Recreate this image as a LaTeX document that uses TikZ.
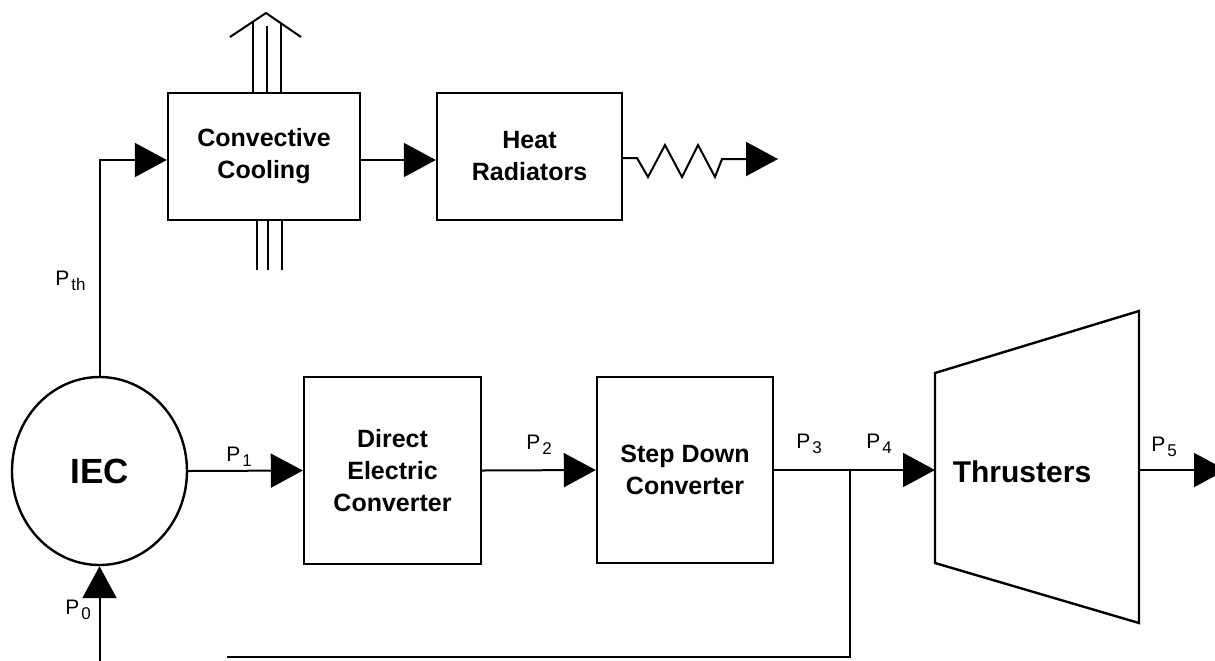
\documentclass[tikz,border=0pt]{standalone}
\usepackage{fontspec}
\setmainfont{Liberation Sans}
\usetikzlibrary{arrows.meta,shapes.geometric}
\newcommand{\plab}[1]{P\kern1pt\raisebox{-2.8pt}{\fontsize{8.5}{8.5}\selectfont #1}}
\begin{document}
\begin{tikzpicture}[x=0.5pt,y=-0.5pt,
  box/.style={draw,line width=1.2pt,rectangle,inner sep=0pt,align=center,font=\bfseries\fontsize{12.5}{16}\selectfont},
  conn/.style={line width=1pt,-{Triangle[length=16pt,width=17pt]}},
  wire/.style={line width=1pt},
  plabel/.style={anchor=base west,inner sep=0pt,font=\fontsize{10.5}{11}\selectfont}]
\clip (0,0) rectangle (1215,660);
% blocks
\node[draw,ellipse,line width=1.2pt,minimum width=87.5pt,minimum height=94pt,inner sep=0pt,font=\bfseries\fontsize{17.5}{18}\selectfont] (iec) at (99.5,471) {IEC};
\node[box,minimum width=96pt,minimum height=63.5pt] (conv) at (264,156.5) {Convective\\Cooling};
\node[box,minimum width=92.5pt,minimum height=63.5pt] (heat) at (529.5,156.5) {Heat\\Radiators};
\node[box,minimum width=88.5pt,minimum height=93.5pt] (dec) at (392.5,470.5) {Direct\\Electric\\Converter};
\node[box,minimum width=88pt,minimum height=93pt] (sdc) at (685,470) {Step Down\\Converter};
% thrusters trapezoid
\coordinate (t1) at (935,373);
\coordinate (t2) at (1139,311);
\coordinate (t3) at (1139,623);
\coordinate (t4) at (935,563);
\draw[line width=1.2pt] (t1) -- (t2) -- (t3) -- (t4) -- cycle;
\node[font=\bfseries\fontsize{15}{16}\selectfont] (thr) at (1022,472) {Thrusters};
\coordinate (thrL) at (935,470);
\coordinate (thrR) at (1139,470);
% connectors
\draw[conn] (iec.north) |- ([yshift=-1.75pt]conv.west);
\draw[conn] ([yshift=-1.75pt]conv.east) -- ([yshift=-1.75pt]heat.west);
\coordinate (rad) at (778,159);
\draw[line width=1pt,line join=miter,-{Triangle[length=16pt,width=17pt]}] ([yshift=-0.75pt]heat.east) -- (637,158) -- (648,177) -- (665,145) -- (682,177) -- (698,145) -- (715,177) -- (722,159) -- (rad);
\draw[conn] (iec.east) -- (dec.west);
\draw[conn] (dec.east) -- (sdc.west);
\draw[conn] (sdc.east) -- (thrL);
\coordinate (j) at (850,470);
\coordinate (fb) at (227,657);
\draw[wire] (j) |- (fb);
\coordinate (p0s) at (99.5,662);
\draw[conn] (p0s) -- (iec.south);
\coordinate (p5e) at (1226,470);
\draw[conn] (thrR) -- (p5e);
% convective flow arrow
\coordinate (tip) at (266,13);
\draw[wire] (230,37) -- (tip) -- (301,37);
\draw[wire] (253,93) -- (253,22);
\draw[wire] (267,93) -- (267,26);
\draw[wire] (281,93) -- (281,23);
\draw[wire] (257,220) -- (257,270);
\draw[wire] (268,220) -- (268,270);
\draw[wire] (282,220) -- (282,270);
% labels
\node[plabel] (lth) at (55,285) {\plab{th}};
\node[plabel] (l0) at (65,614) {\plab{0}};
\node[plabel] (l1) at (226,461) {\plab{1}};
\node[plabel] (l2) at (526,449) {\plab{2}};
\node[plabel] (l3) at (796,448) {\plab{3}};
\node[plabel] (l4) at (866,448) {\plab{4}};
\node[plabel] (l5) at (1151,451) {\plab{5}};
\end{tikzpicture}
\end{document}
